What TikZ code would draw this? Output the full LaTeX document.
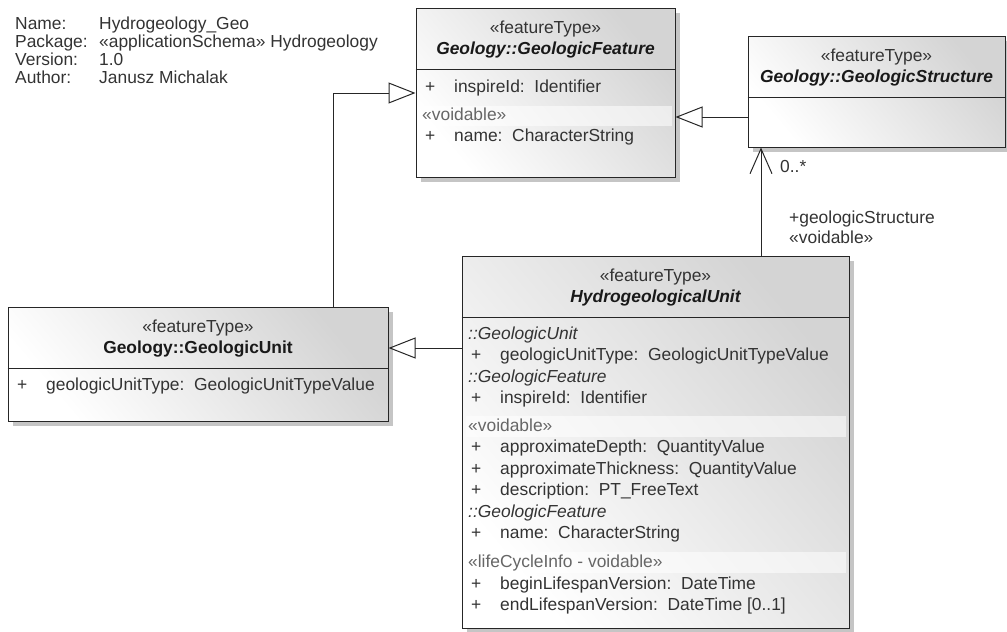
\documentclass[tikz,border=0pt]{standalone}
\usepackage{fontspec}
\setmainfont{Liberation Sans}
\usetikzlibrary{arrows.meta,shadows,calc}
\begin{document}
\begin{tikzpicture}[x=1pt,y=-1pt,
  every node/.style={inner sep=0pt, font=\fontsize{17.4}{20}\selectfont, text=black!80, text height=12pt, text depth=3.5pt},
  lab/.style={anchor=west},
  ctr/.style={anchor=center},
  sect/.style={anchor=west, font=\fontsize{17.4}{20}\selectfont\itshape},
  ster/.style={anchor=west, text=black!60},
  cname/.style={anchor=center, font=\fontsize{17.4}{20}\selectfont\bfseries\itshape, text=black!90},
  cnameup/.style={anchor=center, font=\fontsize{17.4}{20}\selectfont\bfseries, text=black!90},
  cls/.style={draw=black!85, line width=1pt, top color=black!17, bottom color=white, shading angle=-50,
    drop shadow={shadow xshift=5pt, shadow yshift=-5pt, fill=black!25, opacity=0.9}},
  divl/.style={draw=black!85, line width=1pt},
  band/.style={fill=white, fill opacity=0.55},
  gen/.style={draw=black!85, line width=1pt, -{Triangle[open, length=27pt, width=21pt, line width=1pt]}},
  assoc/.style={draw=black!85, line width=1pt, -{Straight Barb[length=25pt, width=22pt, line width=1pt]}}
]
\useasboundingbox (0,0) rectangle (1007,632);

% meta information
\node[lab] (mN) at (15,25) {Name:};
\node[lab] (mNv) at (99,25) {Hydrogeology\_Geo};
\node[lab] (mP) at (15,43) {Package:};
\node[lab] (mPv) at (99,43) {«applicationSchema» Hydrogeology};
\node[lab] (mV) at (15,61) {Version:};
\node[lab] (mVv) at (99,61) {1.0};
\node[lab] (mA) at (15,79) {Author:};
\node[lab] (mAv) at (99,79) {Janusz Michalak};

% class boxes
\node[cls, minimum width=259pt, minimum height=169pt] (feat) at (545.5,92.5) {};
\node[cls, minimum width=257pt, minimum height=111pt] (struc) at (876.5,91.5) {};
\node[cls, minimum width=380pt, minimum height=114pt] (gunit) at (198,364) {};
\node[cls, minimum width=387pt, minimum height=372pt] (hydro) at (655.5,442) {};

% dividers
\draw[divl] ($(feat.north west)+(0,61.5)$) -- ($(feat.north east)+(0,61.5)$);
\draw[divl] ($(struc.north west)+(0,61.5)$) -- ($(struc.north east)+(0,61.5)$);
\draw[divl] ($(gunit.north west)+(0,61.5)$) -- ($(gunit.north east)+(0,61.5)$);
\draw[divl] ($(hydro.north west)+(0,61.5)$) -- ($(hydro.north east)+(0,61.5)$);

% bands
\fill[band] ($(feat.north west)+(4,98)$) rectangle ($(feat.north east)+(-4,118)$);
\fill[band] ($(hydro.north west)+(4,160)$) rectangle ($(hydro.north east)+(-4,181)$);
\fill[band] ($(hydro.north west)+(4,296)$) rectangle ($(hydro.north east)+(-4,317)$);

% GeologicFeature
\node[ctr] (fS) at (545.5,29.5) {«featureType»};
\node[cname] (fN) at (545.5,50.5) {Geology::GeologicFeature};
\node[lab] (f1p) at (425,88) {+};
\node[lab] (f1) at (454,88) {inspireId:\ \ Identifier};
\node[ster] (f2) at (422,116) {«voidable»};
\node[lab] (f3p) at (425,137.5) {+};
\node[lab] (f3) at (454,137.5) {name:\ \ CharacterString};

% GeologicStructure
\node[ctr] (sS) at (876.5,57.5) {«featureType»};
\node[cname] (sN) at (876.5,78.5) {Geology::GeologicStructure};

% GeologicUnit
\node[ctr] (uS) at (198,328.5) {«featureType»};
\node[cnameup] (uN) at (198,349.5) {Geology::GeologicUnit};
\node[lab] (u1p) at (17,386.5) {+};
\node[lab] (u1) at (46,386.5) {geologicUnitType:\ \ GeologicUnitTypeValue};

% HydrogeologicalUnit
\node[ctr] (hS) at (655.5,277.5) {«featureType»};
\node[cname] (hN) at (655.5,298.5) {HydrogeologicalUnit};
\node[sect] (h1) at (468,335) {::GeologicUnit};
\node[lab] (h2p) at (471,356.5) {+};
\node[lab] (h2) at (500,356.5) {geologicUnitType:\ \ GeologicUnitTypeValue};
\node[sect] (h3) at (468,378) {::GeologicFeature};
\node[lab] (h4p) at (471,399.5) {+};
\node[lab] (h4) at (500,399.5) {inspireId:\ \ Identifier};
\node[ster] (h5) at (468,427) {«voidable»};
\node[lab] (h6p) at (471,448.5) {+};
\node[lab] (h6) at (500,448.5) {approximateDepth:\ \ QuantityValue};
\node[lab] (h7p) at (471,470) {+};
\node[lab] (h7) at (500,470) {approximateThickness:\ \ QuantityValue};
\node[lab] (h8p) at (471,491.5) {+};
\node[lab] (h8) at (500,491.5) {description:\ \ PT\_FreeText};
\node[sect] (h9) at (468,513) {::GeologicFeature};
\node[lab] (h10p) at (471,534.5) {+};
\node[lab] (h10) at (500,534.5) {name:\ \ CharacterString};
\node[ster] (h11) at (468,563) {«lifeCycleInfo - voidable»};
\node[lab] (h12p) at (471,585) {+};
\node[lab] (h12) at (500,585) {beginLifespanVersion:\ \ DateTime};
\node[lab] (h13p) at (471,606.5) {+};
\node[lab] (h13) at (500,606.5) {endLifespanVersion:\ \ DateTime [0..1]};

% connectors
\coordinate (b1) at (333,93);
\draw[gen] (gunit.north -| b1) -- (b1) -- (feat.west |- b1);
\coordinate (g1) at (700,117);
\draw[gen] (struc.west |- g1) -- (feat.east |- g1);
\coordinate (g3) at (420,348);
\draw[gen] (hydro.west |- g3) -- (gunit.east |- g3);
\coordinate (ax) at (761,200);
\draw[assoc] (hydro.north -| ax) -- (struc.south -| ax);

% association labels
\node[lab] (m1) at (780,168) {0..*};
\node[lab] (r1) at (789,219) {+geologicStructure};
\node[lab] (r2) at (789,239) {«voidable»};
\end{tikzpicture}
\end{document}
